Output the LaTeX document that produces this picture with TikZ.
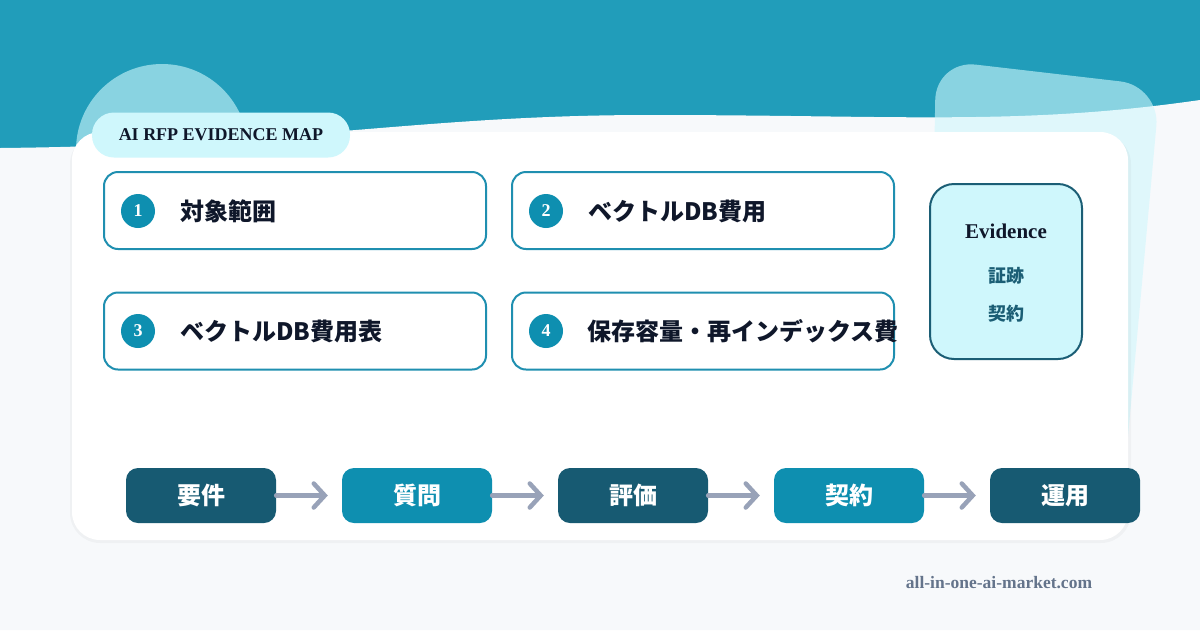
\documentclass[tikz,border=0pt]{standalone}
\usepackage{fontspec}
\setmainfont{Liberation Serif}
\newfontfamily\jp{Noto Sans CJK JP}
\usetikzlibrary{arrows.meta}
\definecolor{tealbg}{HTML}{219DBA}
\definecolor{lightbg}{HTML}{F7F9FB}
\definecolor{blob}{HTML}{CFF7FC}
\definecolor{tagfill}{HTML}{CFF7FC}
\definecolor{boxborder}{HTML}{1F8FB0}
\definecolor{numfill}{HTML}{0E8FB0}
\definecolor{ink}{HTML}{0F172A}
\definecolor{evborder}{HTML}{1B5E75}
\definecolor{flowdark}{HTML}{175A72}
\definecolor{flowteal}{HTML}{0E8FB0}
\definecolor{arrowgrey}{HTML}{98A2B8}
\definecolor{footer}{HTML}{64748B}
\tikzset{
  itembox/.style={draw=boxborder, line width=2pt, fill=white, rounded corners=14pt,
    minimum width=382pt, minimum height=77pt, inner sep=0pt},
  numcirc/.style={circle, fill=numfill, minimum size=34pt, inner sep=0pt,
    text=white, font=\fontsize{18}{18}\selectfont\bfseries},
  itemtext/.style={anchor=west, inner sep=0pt, text=ink,
    font=\jp\fontsize{24}{24}\selectfont\bfseries},
  flowbox/.style={rounded corners=12pt, minimum width=150pt, minimum height=55pt,
    inner sep=0pt, text=white, font=\jp\fontsize{24}{24}\selectfont\bfseries},
  flowarrow/.style={draw=arrowgrey, line width=4.5pt, line cap=round,
    -{Straight Barb[length=11pt,width=24pt,line cap=round]}, shorten >=14pt, shorten <=0pt},
}
\begin{document}
\begin{tikzpicture}[x=1pt,y=-1pt]
\useasboundingbox (0,0) rectangle (1200,630);
% background
\fill[tealbg] (0,0) rectangle (1200,630);
\fill[lightbg] (0,148) .. controls (300,145) and (420,115) .. (650,115)
  .. controls (900,115) and (1020,126) .. (1200,100) -- (1200,630) -- (0,630) -- cycle;
% decorative blobs
\fill[blob, opacity=0.6] (162,150) circle (86);
\fill[blob, opacity=0.6, rounded corners=40pt] (936,60) -- (1160,86) -- (1124,480) -- (928,480) -- cycle;
% card
\fill[black, opacity=0.03, rounded corners=30pt] (70,134) rectangle (1131,543);
\fill[white, rounded corners=28pt] (72,132) rectangle (1128,540);
% tag
\node[fill=tagfill, rounded corners=22pt, minimum width=258pt, minimum height=45pt,
  inner sep=0pt, text=ink, font=\fontsize{18}{18}\selectfont\bfseries] (tag) at (221,135) {AI RFP EVIDENCE MAP};
% item boxes
\node[itembox] (b1) at (295,210.5) {};
\node[itembox] (b2) at (703,210.5) {};
\node[itembox] (b3) at (295,331) {};
\node[itembox] (b4) at (703,331) {};
\node[numcirc] (n1) at (138,211) {1};
\node[numcirc] (n2) at (546,211) {2};
\node[numcirc] (n3) at (138,331) {3};
\node[numcirc] (n4) at (546,331) {4};
\node[itemtext] (t1) at (180,211) {対象範囲};
\node[itemtext] (t2) at (588,211) {ベクトルDB費用};
\node[itemtext] (t3) at (180,331) {ベクトルDB費用表};
\node[itemtext] (t4) at (587,331) {保存容量・再インデックス費};
% evidence
\node[fill=tagfill, draw=evborder, line width=2pt, rounded corners=24pt,
  minimum width=152pt, minimum height=175pt, inner sep=0pt] (ev) at (1006,271.5) {};
\node[text=ink, inner sep=0pt, font=\fontsize{21}{21}\selectfont\bfseries] (evt) at (1006,231) {Evidence};
\node[text=evborder, inner sep=0pt, font=\jp\fontsize{18}{18}\selectfont\bfseries] (ev1) at (1006,276) {証跡};
\node[text=evborder, inner sep=0pt, font=\jp\fontsize{18}{18}\selectfont\bfseries] (ev2) at (1006,314) {契約};
% flow
\node[flowbox, fill=flowdark] (f1) at (201,495.5) {要件};
\node[flowbox, fill=flowteal] (f2) at (417,495.5) {質問};
\node[flowbox, fill=flowdark] (f3) at (633,495.5) {評価};
\node[flowbox, fill=flowteal] (f4) at (849,495.5) {契約};
\node[flowbox, fill=flowdark] (f5) at (1065,495.5) {運用};
\draw[flowarrow] (f1) -- (f2);
\draw[flowarrow] (f2) -- (f3);
\draw[flowarrow] (f3) -- (f4);
\draw[flowarrow] (f4) -- (f5);
% footer
\node[text=footer, inner sep=0pt, font=\fontsize{17.5}{17.5}\selectfont\bfseries] (foot) at (999,583) {all-in-one-ai-market.com};
\end{tikzpicture}
\end{document}
